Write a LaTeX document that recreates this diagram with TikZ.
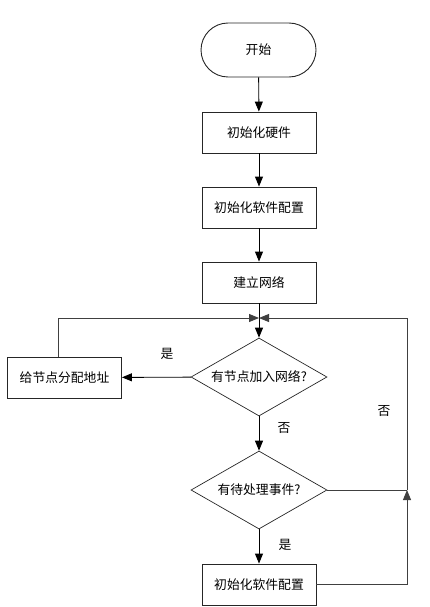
\documentclass[tikz,border=0pt]{standalone}
\usepackage{fontspec}
\setmainfont{Noto Sans CJK SC}
\usetikzlibrary{arrows.meta,shapes.geometric,calc}
\begin{document}
\begin{tikzpicture}[x=1pt,y=-1pt,
  every node/.style={font=\fontsize{12.8}{15}\selectfont},
  box/.style={draw=black!85,line width=0.9pt,minimum width=114pt,minimum height=41pt,inner sep=0pt},
  term/.style={draw=black!85,line width=0.9pt,rounded corners=27pt,minimum width=115pt,minimum height=54pt,inner sep=0pt},
  dia/.style={draw=black!85,line width=0.7pt,diamond,aspect=1.74,minimum width=136pt,minimum height=78pt,inner sep=0pt},
  tip/.style={-{Triangle[length=10pt,width=8pt]}},
  arr/.style={line width=0.9pt,tip},
  ln/.style={line width=0.9pt,draw=black!75},
  lbl/.style={inner sep=0pt}]
\useasboundingbox (0,0) rectangle (429,607);
\node[term] (start) at (258.5,50) {开始};
\node[box] (b1) at (259,132.5) {初始化硬件};
\node[box] (b2) at (259,207.5) {初始化软件配置};
\node[box] (b3) at (259,282.5) {建立网络};
\node[dia] (d1) at (259,377) {有节点加入网络?};
\node[box] (left) at (64.5,377.5) {给节点分配地址};
\node[dia] (d2) at (259,490) {有待处理事件?};
\node[box] (b4) at (259,584.5) {初始化软件配置};
\coordinate (j) at (259,318);
\coordinate (jl) at (58,318);
\coordinate (jr) at (407,318);
\coordinate (r2) at (407,490);
\coordinate (r3) at (407,584.5);
\draw[arr] (start) -- (b1);
\draw[arr] (b1) -- (b2);
\draw[arr] (b2) -- (b3);
\draw[arr] (b3) -- (d1);
\draw[arr] (d1) -- (left);
\draw[arr] (d1) -- (d2);
\draw[arr] (d2) -- (b4);
\draw[ln,tip] (left.north -| jl) -- (jl) -- (j);
\draw[ln] (d2.east) -- (r2);
\draw[ln,tip] (b4.east) -- (r3) -- (r2);
\draw[ln,tip] (r2) -- (jr) -- (j);
\node[lbl] (l1) at (167,354) {是};
\node[lbl] (l2) at (284,428) {否};
\node[lbl] (l3) at (384,411) {否};
\node[lbl] (l4) at (285,545) {是};
\end{tikzpicture}
\end{document}
